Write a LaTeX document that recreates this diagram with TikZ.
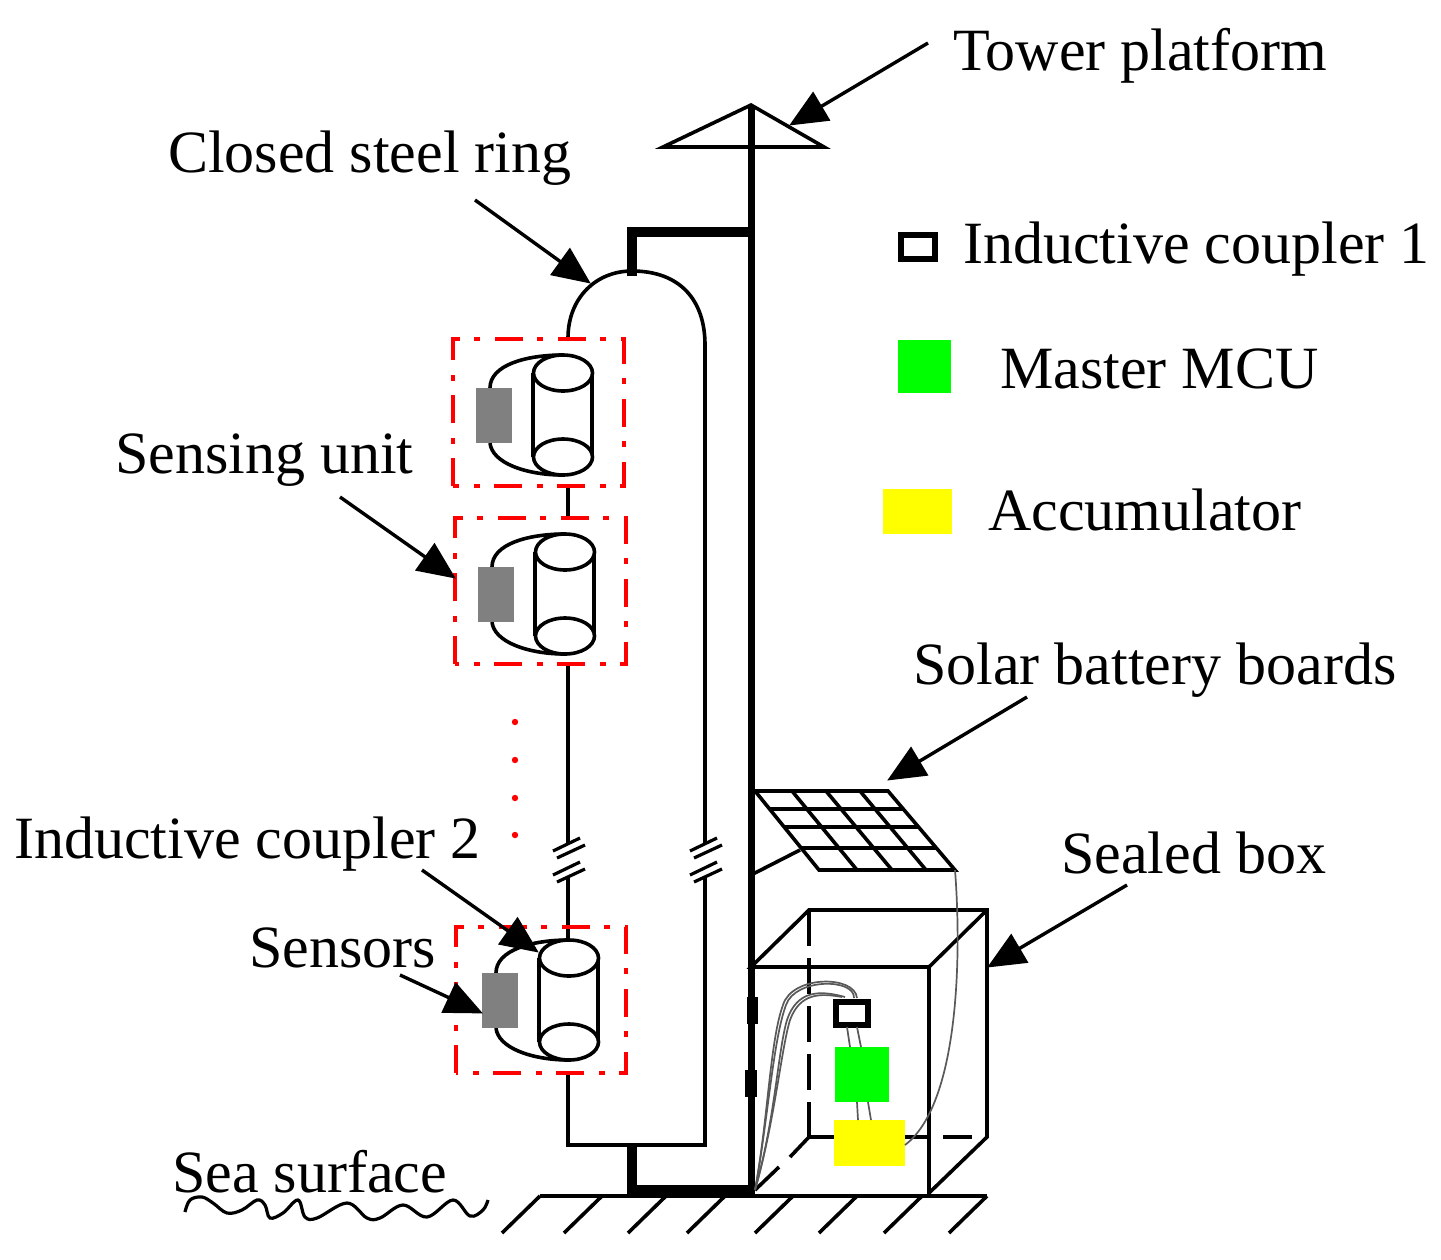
\documentclass[tikz,border=0pt]{standalone}
\usepackage{fontspec}
\setmainfont{Liberation Serif}
\usetikzlibrary{arrows.meta}
\definecolor{pureyellow}{RGB}{255,255,0}
\definecolor{puregreen}{RGB}{0,255,0}
\definecolor{purered}{RGB}{255,0,0}
\definecolor{midgray}{RGB}{128,128,128}
\tikzset{
  lbl/.style={anchor=base west,inner sep=0pt,font=\fontsize{60}{62}\selectfont},
  thinl/.style={line width=3.6pt},
  mast/.style={line width=7pt,line cap=butt},
  thick bar/.style={line width=10pt,line join=miter},
  redbox/.style={draw=purered,line width=3.8pt,dash pattern=on 28pt off 14pt on 6pt off 15pt},
  callout/.style={line width=3.4pt,-{Triangle[length=38pt,width=33pt]},shorten >=-1pt},
  wire/.style={draw=black!65,line width=1.7pt},
  swatch/.style={draw=none,inner sep=0pt,minimum width=0pt},
  coreline/.style={line width=3.6pt,fill=white},
  pics/sensorunit/.style={code={
    \draw[coreline] (14,33) .. controls (14,10) and (50,0) .. (87,0);
    \draw[coreline,fill=none] (14,88) .. controls (16,108) and (50,120) .. (87,120);
    \fill[midgray] (0,33) rectangle (36,88);
    \draw[coreline] (57,18) -- (57,102) (116,18) -- (116,102);
    \draw[coreline] (87,18) ellipse [x radius=29.5,y radius=18];
    \draw[coreline] (87,102) ellipse [x radius=29.5,y radius=18];
  }}
}
\begin{document}
\begin{tikzpicture}[x=1pt,y=-1pt]
\useasboundingbox (0,0) rectangle (1441,1259);
\fill[white] (0,0) rectangle (1441,1259);

% ground hatch
\coordinate (gl) at (540,1196);
\coordinate (gr) at (987,1196);
\draw[thinl] (gl) -- (gr);
\foreach \hx in {540,602,666,725,793,857,922,987}
  \draw[thinl] (\hx,1196) -- ++(-38,37);

% steel ring
\coordinate (ringL) at (568,338);
\coordinate (ringTop) at (632,271);
\coordinate (ringR) at (705,345);
\coordinate (ringBL) at (568,1145);
\coordinate (ringBR) at (705,1145);
\draw[thinl] (ringL) .. controls (568,298) and (596,271) .. (ringTop)
   .. controls (680,271) and (705,300) .. (ringR) -- (705,843);
\draw[thinl] (705,876) -- (ringBR) -- (ringBL) -- (568,1072);
\draw[thinl] (568,486) -- (568,518);
\draw[thinl] (568,664) -- (568,843);
\draw[thinl] (568,876) -- (568,945);
% breaks
\foreach \bx in {568,705}{
  \foreach \by in {0,24}{
    \draw[line width=3.2pt] (\bx-15,851+\by) -- (\bx+12,838+\by);
    \draw[line width=3.2pt] (\bx-11,858+\by) -- (\bx+17,845+\by);
  }
}

% thick supports and mast
\coordinate (mastTop) at (751,105);
\coordinate (mastFoot) at (751,1196);
\draw[thick bar] (632,276) -- (632,232) -- (751,232);
\draw[thick bar] (632,1145) -- (632,1190) -- (751,1190);
\draw[mast] (mastTop) -- (mastFoot);
\draw[thinl,line join=miter] (663,147) -- (mastTop) -- (824,147) -- cycle;
\fill (747,997) rectangle (758,1024);
\fill (745,1070) rectangle (757,1097);

% red boxes
\draw[redbox] (453,486) -- (453,339) -- (624,339) -- (624,486) -- cycle;
\draw[redbox] (455,664) -- (455,518) -- (626,518) -- (626,664) -- cycle;
\draw[redbox] (456,1073) -- (456,927) -- (626,927) -- (626,1073) -- cycle;

% units
\pic at (476,355) {sensorunit};
\pic at (478,534) {sensorunit};
\pic at (482,940) {sensorunit};

% red dots
\foreach \dy in {722,760,798,835}
  \fill[purered] (515,\dy) circle (3.2pt);

% solar panel
\draw[thinl,line join=miter] (755,791) -- (888,791) -- (955,870) -- (819,870) -- cycle;
\draw[thinl] (770,809) -- (903,809) (785,827) -- (919,827) (802,848) -- (937,848);
\draw[thinl] (792,791) -- (857,870) (826,791) -- (892,870) (860,791) -- (926,870);
\draw[thinl] (751,875) -- (800,850);

% box
\draw[thinl,line join=miter] (751,967) -- (809,910) -- (987,910) -- (987,1137) -- (929,1193) -- (929,967) -- cycle;
\draw[thinl] (929,967) -- (987,910);
\draw[thinl,dash pattern=on 36pt off 12pt] (809,910) -- (809,1137);
\draw[thinl] (809,1137) -- (835,1137) (905,1137) -- (929,1137) (943,1137) -- (972,1137);
\draw[thinl] (809,1137) -- (790,1157) (779,1167) -- (755,1190);

% legend / components
\node[swatch,fill=puregreen,minimum width=53pt,minimum height=53pt,anchor=north west] (master) at (898,340) {};
\node[swatch,fill=pureyellow,minimum width=69pt,minimum height=45pt,anchor=north west] (accu) at (883,489) {};
\draw[line width=5.5pt,line join=miter] (901,235) rectangle (935,259);
\node[swatch,fill=puregreen,minimum width=54pt,minimum height=55pt,anchor=north west] (mcu) at (835,1047) {};
\node[swatch,fill=pureyellow,minimum width=71pt,minimum height=46pt,anchor=north west] (bat) at (834,1120) {};
\node[draw,line width=5.5pt,minimum width=32pt,minimum height=23pt,inner sep=0pt,anchor=north west] (cp) at (833,999) {};

% thin wires (each drawn as a close pair)
\foreach \o in {0,3}{
\draw[wire] (755,1190) .. controls (768,1120) and ({770+\o},1040) .. ({783+\o},1005)
  .. controls ({792+\o},{975+\o}) and (855,{975+\o}) .. ({857-\o},998);
\draw[wire] (755,1190) .. controls (775,1120) and ({778+\o},1050) .. ({787+\o},1020)
  .. controls ({797+\o},{990+\o}) and (820,{990+\o}) .. ({845-\o},997);
}
\draw[wire] (847,1027) -- (850,1047) (857,1027) -- (861,1047);
\draw[wire] (857,1102) -- (858,1120) (868,1102) -- (871,1120);
\draw[wire] (955,870) .. controls (962,960) and (958,1105) .. (905,1145);

% wave
\draw[line width=3.2pt] plot[smooth,tension=.6] coordinates {(185,1212) (190,1200) (202,1197) (213,1203) (227,1213) (242,1210) (257,1200) (265,1205) (270,1218) (283,1213) (298,1200) (305,1217) (317,1218) (347,1203) (367,1218) (380,1218) (403,1205) (427,1217) (453,1200) (470,1216) (483,1210) (488,1200)};

% labels
\node[lbl] (tTower) at (953,70) {Tower platform};
\node[lbl] (tRing) at (168,172) {Closed steel ring};
\node[lbl] (tUnit) at (115,473) {Sensing unit};
\node[lbl] (tCp2) at (14,858) {Inductive coupler 2};
\node[lbl] (tSens) at (249,967) {Sensors};
\node[lbl] (tSea) at (172,1192) {Sea surface};
\node[lbl] (tCp1) at (963,263) {Inductive coupler 1};
\node[lbl] (tMcu) at (1000,388) {Master MCU};
\node[lbl] (tAcc) at (988,530) {Accumulator};
\node[lbl] (tSolar) at (913,684) {Solar battery boards};
\node[lbl] (tBox) at (1061,873) {Sealed box};

% callouts
\coordinate (aTower) at (928,43);   \coordinate (hTower) at (790,125);
\coordinate (aRing) at (475,200);   \coordinate (hRing) at (590,283);
\coordinate (aUnit) at (340,497);   \coordinate (hUnit) at (455,578);
\coordinate (aSolar) at (1027,697); \coordinate (hSolar) at (888,780);
\coordinate (aBox) at (1127,885);   \coordinate (hBox) at (988,967);
\coordinate (aCp2) at (422,870);    \coordinate (hCp2) at (538,952);
\coordinate (aSens) at (400,975);   \coordinate (hSens) at (482,1013);
\foreach \ca/\ch in {aTower/hTower,aRing/hRing,aUnit/hUnit,aSolar/hSolar,aBox/hBox,aCp2/hCp2,aSens/hSens}
  \draw[callout] (\ca) -- (\ch);
\end{tikzpicture}
\end{document}
